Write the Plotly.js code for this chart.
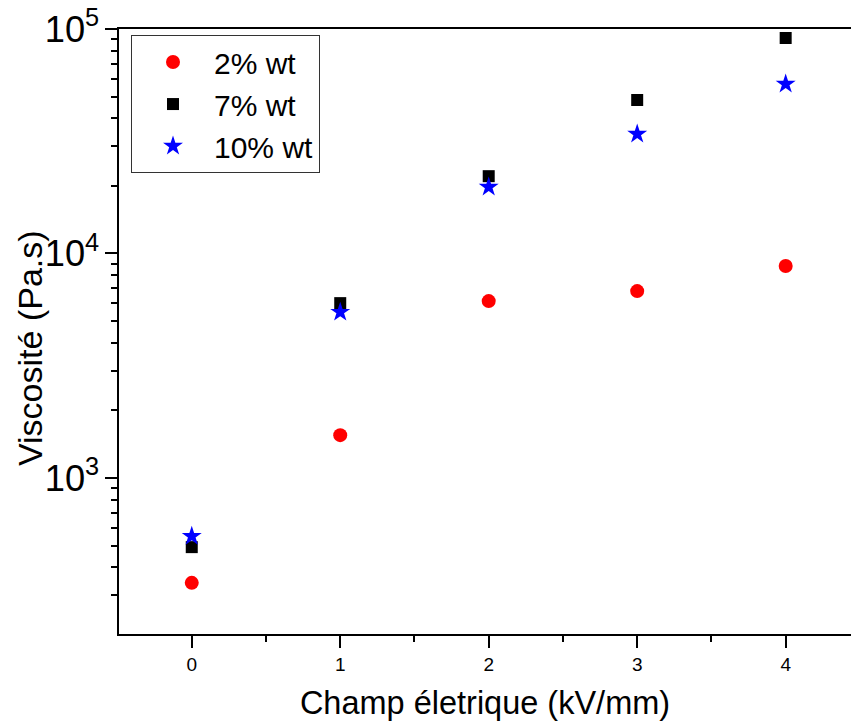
<!DOCTYPE html>
<html>
<head>
<meta charset="utf-8">
<script src="https://cdn.plot.ly/plotly-3.0.1.min.js"></script>
<style>html,body{margin:0;padding:0;background:#fff;overflow:hidden;}</style>
</head>
<body>
<div id="chart" style="width:851px;height:726px;"></div>
<script>
const fieldKV = [0, 1, 2, 3, 4];
const visc2 = [341, 1552, 6135, 6800, 8790];
const visc7 = [492, 6010, 22100, 48270, 91200];
const visc10 = [550, 5480, 19770, 34050, 56880];
const seriesNames = ['2% wt', '7% wt', '10% wt'];
const xTitle = 'Champ életrique (kV/mm)';
const yTitle = 'Viscosité (Pa.s)';

const font = 'Arial, "Liberation Sans", sans-serif';

const traces = [
  {x: fieldKV, y: visc2, name: seriesNames[0], type: 'scatter', mode: 'markers',
   marker: {symbol: 'circle', size: 14, color: '#ff0000'}},
  {x: fieldKV, y: visc7, name: seriesNames[1], type: 'scatter', mode: 'markers',
   marker: {symbol: 'square', size: 12, color: '#000000'}},
  {x: fieldKV, y: visc10, name: seriesNames[2], type: 'scatter', mode: 'markers',
   marker: {symbol: 'star', size: 15, color: '#0000ff'}}
];

const layout = {
  width: 851, height: 726,
  margin: {l: 119, r: 0, t: 29, b: 92, pad: 0},
  paper_bgcolor: '#ffffff', plot_bgcolor: '#ffffff',
  font: {family: font, color: '#000'},
  showlegend: true,
  legend: {
    x: 0.0164, y: 0.99, xanchor: 'left', yanchor: 'top',
    bordercolor: '#333', borderwidth: 1, bgcolor: '#fff',
    font: {family: font, size: 30, color: '#000'},
    itemwidth: 72
  },
  xaxis: {
    range: [-0.49, 4.44],
    showgrid: false, zeroline: false,
    showline: true, linecolor: '#000', linewidth: 2, mirror: true,
    ticks: 'outside', ticklen: 12, tickwidth: 2, tickcolor: '#000',
    tickvals: fieldKV, ticktext: fieldKV.map(String),
    tickfont: {family: font, size: 19, color: '#000'},
    minor: {tickvals: [0.5, 1.5, 2.5, 3.5], ticks: 'outside', ticklen: 6, tickwidth: 2, tickcolor: '#000'},
    title: {text: xTitle, font: {family: font, size: 32.5, color: '#000'}, standoff: 17}
  },
  yaxis: {
    type: 'log', range: [2.305, 5],
    showgrid: false, zeroline: false,
    showline: true, linecolor: '#000', linewidth: 2, mirror: false,
    ticks: 'outside', ticklen: 12, tickwidth: 2, tickcolor: '#000',
    dtick: 1, exponentformat: 'power', showexponent: 'all',
    tickfont: {family: font, size: 29, color: '#000'},
    minor: {dtick: 'D1', ticks: 'outside', ticklen: 6, tickwidth: 2, tickcolor: '#000'}
  },
  annotations: [{
    text: yTitle, textangle: -90, showarrow: false,
    xref: 'paper', yref: 'paper', x: -0.1216, y: 0.4727,
    xanchor: 'center', yanchor: 'middle',
    font: {family: font, size: 34, color: '#000'}
  }]
};

Plotly.newPlot('chart', traces, layout, {displayModeBar: false, staticPlot: true});
</script>
</body>
</html>
